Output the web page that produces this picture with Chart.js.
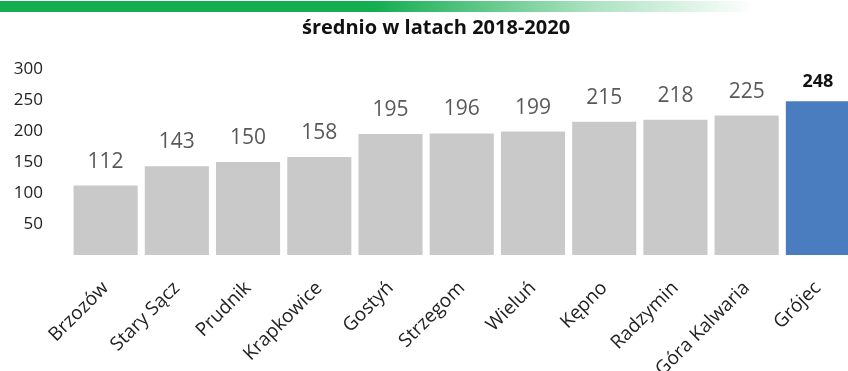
<!DOCTYPE html>
<html>
<head>
<meta charset="utf-8">
<script src="https://cdn.jsdelivr.net/npm/chart.js@4/dist/chart.umd.min.js"></script>
<style>
  html, body { margin: 0; padding: 0; background: #fff; overflow: hidden; }
  #wrap { position: relative; width: 856px; height: 371px; }
  #strip { position: absolute; left: 0; top: 1px; width: 848px; height: 11px;
    background: linear-gradient(to right, #14ad50 0%, #14ad50 44%, rgba(20,173,80,0.35) 70%, rgba(20,173,80,0) 89%); }
  #title { position: absolute; top: 13px; left: 0; width: 872px; text-align: center;
    font: bold 20px "Open Sans", sans-serif; color: #111; }
</style>
</head>
<body>
<div id="wrap">
  <div id="strip"></div>
  <div id="title">średnio w latach 2018-2020</div>
  <canvas id="chart" width="856" height="371"></canvas>
</div>
<script>
// dane
const miasta = ['Brzozów','Stary Sącz','Prudnik','Krapkowice','Gostyń','Strzegom','Wieluń','Kępno','Radzymin','Góra Kalwaria','Grójec'];
const wartosci = [112, 143, 150, 158, 195, 196, 199, 215, 218, 225, 248];
const yTicks = [50, 100, 150, 200, 250, 300];

const szary = '#c9c9c9';
const niebieski = '#4a7dc0';
const kolory = miasta.map((m, i) => i === miasta.length - 1 ? niebieski : szary);

// etykiety wartości nad słupkami
const etykiety = {
  id: 'etykiety',
  afterDatasetsDraw(chart) {
    const ctx = chart.ctx;
    const meta = chart.getDatasetMeta(0);
    ctx.save();
    ctx.textAlign = 'center';
    ctx.textBaseline = 'alphabetic';
    meta.data.forEach((bar, i) => {
      const ostatni = i === meta.data.length - 1;
      ctx.font = ostatni ? 'bold 18px "Open Sans"' : '21px "Open Sans"';
      ctx.fillStyle = ostatni ? '#111' : '#595959';
      ctx.fillText(String(wartosci[i]), bar.x, bar.y - (ostatni ? 14 : 18));
    });
    ctx.restore();
  }
};

new Chart(document.getElementById('chart'), {
  type: 'bar',
  data: {
    labels: miasta,
    datasets: [{ data: wartosci, backgroundColor: kolory, barPercentage: 0.9, categoryPercentage: 1.0 }]
  },
  options: {
    responsive: false,
    animation: false,
    layout: { padding: { top: 69, right: 0, bottom: 0, left: 0 } },
    plugins: { legend: { display: false }, tooltip: { enabled: false } },
    scales: {
      x: {
        grid: { display: false, drawTicks: false },
        border: { display: false },
        ticks: { autoSkip: false, minRotation: 45, maxRotation: 45, padding: 22,
          color: '#222', font: { family: 'Open Sans', size: 19 } },
        afterFit(s) { s.height = 116; }
      },
      y: {
        min: 0, max: 300,
        grid: { display: false, drawTicks: false },
        border: { display: false },
        afterBuildTicks(s) { s.ticks = yTicks.map(v => ({ value: v })); },
        ticks: { padding: 27, color: '#222', font: { family: 'Open Sans', size: 17 } },
        afterFit(s) { s.width = 70; }
      }
    }
  },
  plugins: [etykiety]
});
</script>
</body>
</html>
